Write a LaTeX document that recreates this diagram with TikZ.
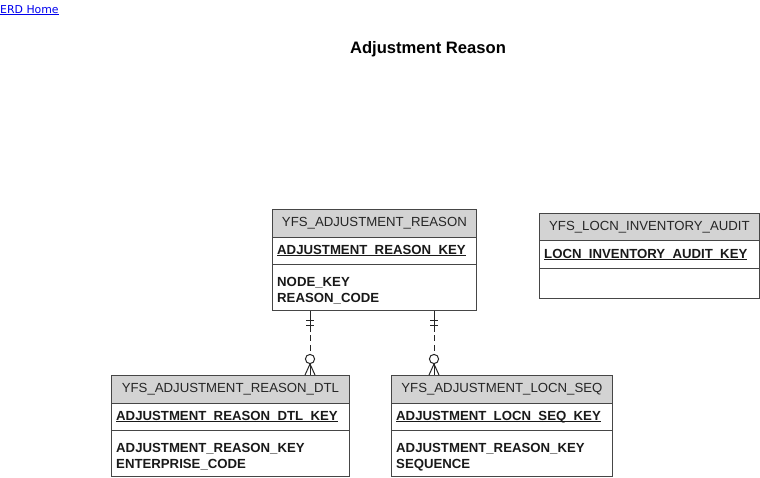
\documentclass[tikz,border=0pt]{standalone}
\usepackage{fontspec}
\setmainfont{Liberation Sans}
\newfontfamily\verd{DejaVu Sans}
\usetikzlibrary{calc}
\definecolor{hdrgray}{RGB}{211,211,211}
\definecolor{bordergray}{RGB}{70,70,70}
\definecolor{linkblue}{RGB}{0,0,238}
\newcommand{\ulkey}[1]{\setbox0\hbox{#1}\rlap{\rule[-1.9pt]{\wd0}{0.9pt}}\box0}
\begin{document}
\begin{tikzpicture}[x=1pt,y=-1pt,
  sect/.style={draw=bordergray, line width=0.8pt, inner sep=0pt, anchor=north west},
  hdr/.style={sect, fill=hdrgray},
  title/.style={font=\fontsize{13.2}{15}\selectfont, text=black!85, inner sep=0pt},
  keytxt/.style={font=\bfseries\fontsize{13.2}{15}\selectfont, text=black!90, inner sep=0pt, anchor=base west},
  attrtxt/.style={font=\bfseries\fontsize{13.2}{16}\selectfont, text=black!90, inner sep=0pt, anchor=base west, align=left},
  rel/.style={draw=black!85, line width=1pt},
  reldash/.style={rel, dash pattern=on 6pt off 3.5pt}
]
\useasboundingbox (0,0) rectangle (760,477);

% link and title
\node[anchor=base west, inner sep=0pt, text=linkblue, font=\verd\fontsize{10.9}{12}\selectfont] (home) at (0,13) {\underline{ERD Home}};
\node[anchor=base, inner sep=0pt, font=\bfseries\fontsize{16.6}{18}\selectfont] (ttl) at (428,53) {Adjustment Reason};

% YFS_ADJUSTMENT_REASON
\node[hdr, minimum width=204pt, minimum height=28pt] (rh) at (272,209) {};
\node[sect, minimum width=204pt, minimum height=27pt] (rk) at (272,237) {};
\node[sect, minimum width=204pt, minimum height=46pt] (r) at (272,264) {};
\node[title] at (rh.center) {YFS\_ADJUSTMENT\_REASON};
\node[keytxt] at (277,254) {\ulkey{ADJUSTMENT\_REASON\_KEY}};
\node[attrtxt] at (277,302) {NODE\_KEY\\REASON\_CODE};

% YFS_LOCN_INVENTORY_AUDIT
\node[hdr, minimum width=220pt, minimum height=27pt] (ah) at (539,213) {};
\node[sect, minimum width=220pt, minimum height=28pt] (ak) at (539,240) {};
\node[sect, minimum width=220pt, minimum height=30pt] (a) at (539,268) {};
\node[title] at (ah.center) {YFS\_LOCN\_INVENTORY\_AUDIT};
\node[keytxt] at (544,258) {\ulkey{LOCN\_INVENTORY\_AUDIT\_KEY}};

% YFS_ADJUSTMENT_REASON_DTL
\node[hdr, minimum width=238pt, minimum height=28pt] (dh) at (111,375) {};
\node[sect, minimum width=238pt, minimum height=27pt] (dk) at (111,403) {};
\node[sect, minimum width=238pt, minimum height=46pt] (d) at (111,430) {};
\node[title] at (dh.center) {YFS\_ADJUSTMENT\_REASON\_DTL};
\node[keytxt] at (116,420) {\ulkey{ADJUSTMENT\_REASON\_DTL\_KEY}};
\node[attrtxt] at (116,468) {ADJUSTMENT\_REASON\_KEY\\ENTERPRISE\_CODE};

% YFS_ADJUSTMENT_LOCN_SEQ
\node[hdr, minimum width=221pt, minimum height=28pt] (sh) at (391,375) {};
\node[sect, minimum width=221pt, minimum height=27pt] (sk) at (391,403) {};
\node[sect, minimum width=221pt, minimum height=46pt] (s) at (391,430) {};
\node[title] at (sh.center) {YFS\_ADJUSTMENT\_LOCN\_SEQ};
\node[keytxt] at (396,420) {\ulkey{ADJUSTMENT\_LOCN\_SEQ\_KEY}};
\node[attrtxt] at (396,468) {ADJUSTMENT\_REASON\_KEY\\SEQUENCE};

% relationship 1: r -> dtl
\coordinate (p1) at ([xshift=38pt]r.south west);
\coordinate (c1) at ([xshift=199pt]dh.north west);
\draw[rel] (p1) -- ++(0,15);
\draw[reldash] ([yshift=-15pt]p1) -- ([yshift=-44pt]p1);
\draw[rel] ([shift={(-4,10)}]p1) -- ++(8,0);
\draw[rel] ([shift={(-4,15)}]p1) -- ++(8,0);
\draw[rel] ([yshift=16pt]c1) circle (4.6);
\draw[rel] ([yshift=11pt]c1) -- ([xshift=-5pt]c1);
\draw[rel] ([yshift=11pt]c1) -- (c1);
\draw[rel] ([yshift=11pt]c1) -- ([xshift=5pt]c1);

% relationship 2: r -> locn seq
\coordinate (p2) at ([xshift=162pt]r.south west);
\coordinate (c2) at ([xshift=43pt]sh.north west);
\draw[rel] (p2) -- ++(0,15);
\draw[reldash] ([yshift=-15pt]p2) -- ([yshift=-44pt]p2);
\draw[rel] ([shift={(-4,10)}]p2) -- ++(8,0);
\draw[rel] ([shift={(-4,15)}]p2) -- ++(8,0);
\draw[rel] ([yshift=16pt]c2) circle (4.6);
\draw[rel] ([yshift=11pt]c2) -- ([xshift=-5pt]c2);
\draw[rel] ([yshift=11pt]c2) -- (c2);
\draw[rel] ([yshift=11pt]c2) -- ([xshift=5pt]c2);
\end{tikzpicture}
\end{document}
